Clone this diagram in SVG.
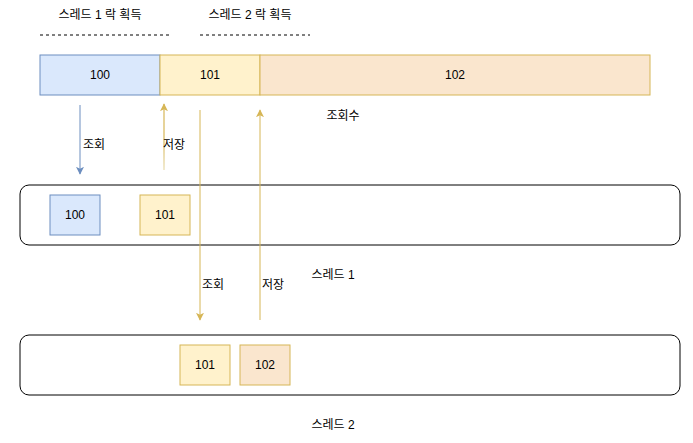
<svg xmlns="http://www.w3.org/2000/svg" width="693" height="443" viewBox="0 0 693 443">
<defs>
<style>
text{font-family:"Liberation Sans","Noto Sans CJK KR",sans-serif;font-size:12px;fill:#000;text-anchor:middle;dominant-baseline:central}
.blue{fill:#dae8fc;stroke:#6c8ebf;stroke-width:1}
.yel{fill:#fff2cc;stroke:#d6b656;stroke-width:1}
.org{fill:#fae6ce;stroke:#d6b656;stroke-width:1}
.thread{fill:#fff;stroke:#000;stroke-width:1}
.dash{stroke:#000;stroke-width:1;stroke-dasharray:3 3;fill:none}
</style>
<marker id="ab" viewBox="0 0 10 10" refX="9" refY="5" markerWidth="8" markerHeight="8" markerUnits="userSpaceOnUse" orient="auto"><path d="M0,0 L10,5 L0,10 L2.5,5 Z" fill="#6c8ebf"/></marker>
<marker id="ay" viewBox="0 0 10 10" refX="9" refY="5" markerWidth="8" markerHeight="8" markerUnits="userSpaceOnUse" orient="auto"><path d="M0,0 L10,5 L0,10 L2.5,5 Z" fill="#d6b656"/></marker>
<linearGradient id="fade" gradientUnits="userSpaceOnUse" x1="0" y1="105" x2="0" y2="170"><stop offset="0.55" stop-color="#d6b656"/><stop offset="1" stop-color="#e9dcae"/></linearGradient>
</defs>
<rect width="693" height="443" fill="#fff"/>
<g id="lock1-label"><text x="100" y="15">스레드 1 락 획득</text><line class="dash" x1="40" y1="35" x2="169" y2="35"/></g>
<g id="lock2-label"><text x="250" y="15">스레드 2 락 획득</text><line class="dash" x1="200" y1="35" x2="310" y2="35"/></g>
<g id="cell-100"><rect class="blue" x="40" y="55" width="120" height="40"/><text x="100" y="75">100</text></g>
<g id="cell-101"><rect class="yel" x="160" y="55" width="100" height="40"/><text x="210" y="75">101</text></g>
<g id="cell-102"><rect class="org" x="260" y="55" width="390" height="40"/><text x="455" y="75">102</text></g>
<g id="label-count"><text x="343" y="116">조회수</text></g>
<g id="thread1"><rect class="thread" x="20" y="185" width="660" height="60" rx="9" ry="9"/></g>
<g id="thread1-label"><text x="333" y="275">스레드 1</text></g>
<g id="t1-100"><rect class="blue" x="50" y="195" width="50" height="40"/><text x="75" y="215">100</text></g>
<g id="t1-101"><rect class="yel" x="140" y="195" width="50" height="40"/><text x="165" y="215">101</text></g>
<g id="thread2"><rect class="thread" x="20" y="335" width="660" height="60" rx="9" ry="9"/></g>
<g id="thread2-label"><text x="333" y="425">스레드 2</text></g>
<g id="t2-101"><rect class="yel" x="180" y="345" width="50" height="40"/><text x="205" y="365">101</text></g>
<g id="t2-102"><rect class="org" x="240" y="345" width="50" height="40"/><text x="265" y="365">102</text></g>
<g id="connectors">
<line x1="80" y1="105" x2="80" y2="174" stroke="#6c8ebf" stroke-width="1" marker-end="url(#ab)"/>
<text x="94" y="145">조회</text>
<line x1="164" y1="170" x2="164" y2="104" stroke="url(#fade)" stroke-width="1.2" marker-end="url(#ay)"/>
<text x="174" y="145">저장</text>
<line x1="200" y1="110" x2="200" y2="320" stroke="#d6b656" stroke-width="1" marker-end="url(#ay)"/>
<text x="213" y="285">조회</text>
<line x1="260" y1="320" x2="260" y2="110" stroke="#d6b656" stroke-width="1" marker-end="url(#ay)"/>
<text x="273" y="285">저장</text>
</g>
</svg>
